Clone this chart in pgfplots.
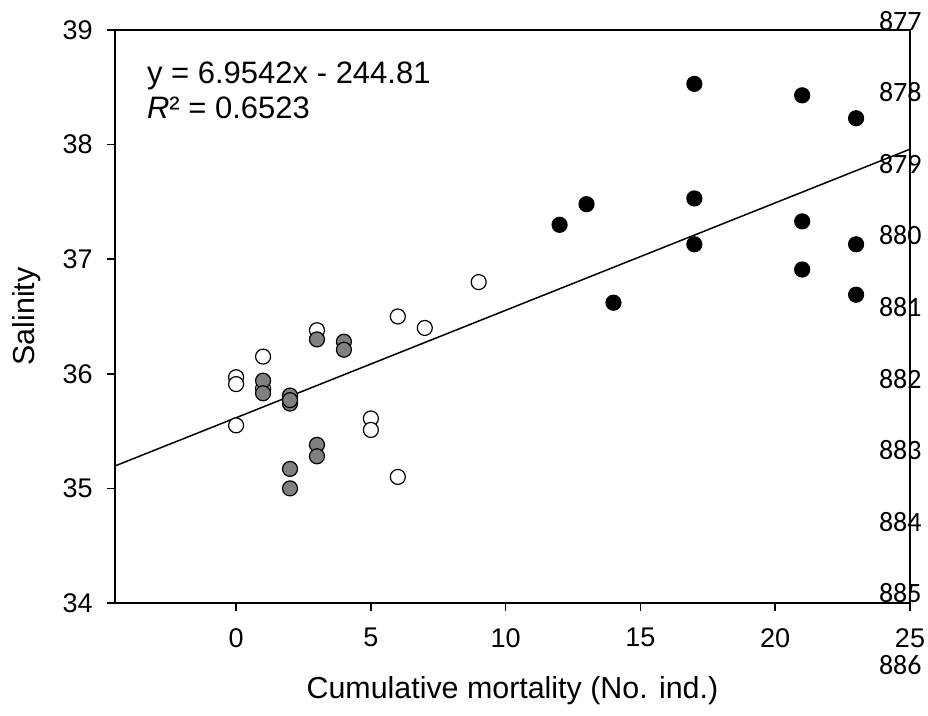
\documentclass[border=0pt]{standalone}
\usepackage{fontspec}
\setmainfont{Liberation Sans}
\newfontfamily\lnfont{Carlito}
\usepackage{pgfplots}
\pgfplotsset{compat=1.18}
\begin{document}
\begin{tikzpicture}
\path[use as bounding box] (-57.4pt,-56.5pt) rectangle (406.6pt,301.5pt);
\begin{axis}[
  at={(0,0)}, anchor=south west,
  scale only axis, width=397.6pt, height=286.5pt,
  xmin=-4.5, xmax=25, ymin=34, ymax=39,
  xtick={0,5,10,15,20,25}, ytick={34,35,36,37,38,39},
  tick align=outside, tick pos=left, major tick length=4pt,
  axis line style={line width=0.75pt},
  every tick/.style={line width=0.75pt, black},
  /pgf/number format/assume math mode=true,
  ticklabel style={font=\fontsize{13.5}{16}\selectfont},
  yticklabel style={anchor=east, inner sep=0pt, xshift=-6.9pt},
  xticklabel style={anchor=north, inner sep=0pt, yshift=-8.5pt},
  xlabel={Cumulative mortality (No. ind.)},
  ylabel={Salinity},
  label style={font=\fontsize{15.2}{18}\selectfont},
  xlabel style={at={(axis description cs:0.5,-0.1536)}, anchor=center},
  ylabel style={at={(axis description cs:-0.1104,0.5)}, anchor=center},
  clip=false,
]
\addplot[no marks, black, line width=0.75pt] coordinates {(-4.5,35.195) (25,37.96)};
\addplot[only marks, mark=*, mark size=3.75pt, mark options={fill=white, draw=black, line width=0.6pt}] coordinates {
(0,35.97) (0,35.91) (0,35.55) (1,36.15) (1,35.87) (3,36.38) (5,35.61) (5,35.51) (6,36.5) (6,35.1) (7,36.4) (9,36.8)
};
\addplot[only marks, mark=*, mark size=3.75pt, mark options={fill=gray, draw=black, line width=0.6pt}] coordinates {
(1,35.94) (1,35.83) (2,35.74) (2,35.81) (2,35.77) (2,35.17) (2,35.0) (3,36.3) (3,35.38) (3,35.28) (4,36.28) (4,36.21)
};
\addplot[only marks, mark=*, mark size=3.75pt, mark options={fill=black, draw=black, line width=0.6pt}] coordinates {
(12,37.3) (13,37.48) (14,36.62) (17,38.53) (17,37.53) (17,37.13) (21,38.43) (21,37.33) (21,36.91) (23,38.23) (23,37.13) (23,36.69)
};
\node[anchor=base west, inner sep=0pt, font=\fontsize{15.5}{18}\selectfont] at (rel axis cs:0.0401,0.9058) {y = 6.9542x - 244.81};
\node[anchor=base west, inner sep=0pt, font=\fontsize{15.5}{18}\selectfont] at (rel axis cs:0.0401,0.8447) {\textit{R}² = 0.6523};
\end{axis}
\foreach \n [count=\i from 0] in {877,878,879,880,881,882,883,884,885,886} {
  \node[anchor=east, inner sep=0pt, font=\lnfont\fontsize{14}{16}\selectfont] at (403.6pt,{(602-19.7-71.6*\i)*0.5pt}) {\n};
}
\end{tikzpicture}
\end{document}
